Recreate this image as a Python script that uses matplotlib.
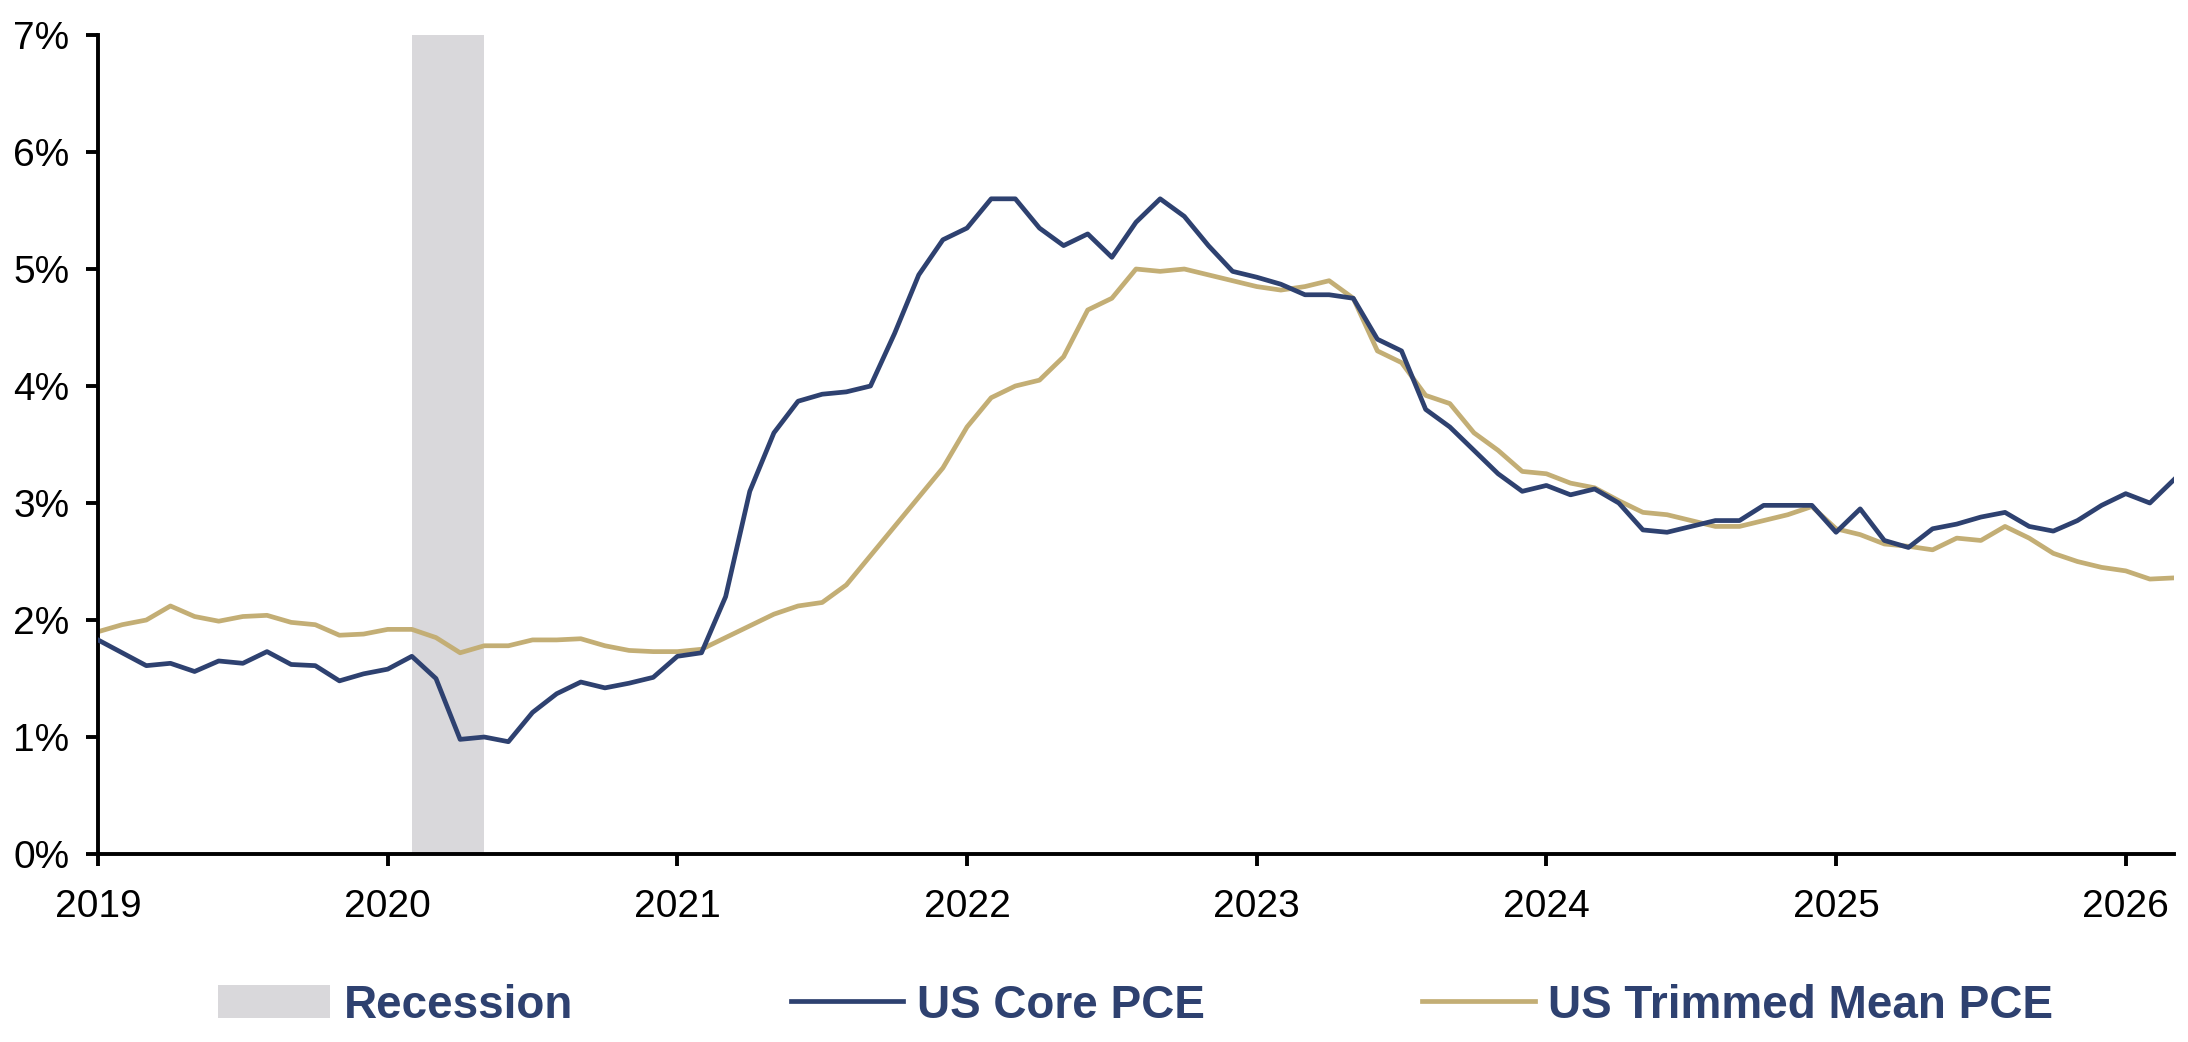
import numpy as np
import matplotlib.pyplot as plt
from matplotlib.patches import Patch
from matplotlib.lines import Line2D
from matplotlib.ticker import FuncFormatter

plt.rcParams['font.family'] = ['Liberation Sans', 'DejaVu Sans']

# monthly readings, Jan 2019 .. Mar 2026 (% y/y)
core_pce = [
    1.83, 1.72, 1.61, 1.63, 1.56, 1.65, 1.63, 1.73, 1.62, 1.61, 1.48, 1.54,  # 2019
    1.58, 1.69, 1.50, 0.98, 1.00, 0.96, 1.21, 1.37, 1.47, 1.42, 1.46, 1.51,  # 2020
    1.69, 1.72, 2.20, 3.10, 3.60, 3.87, 3.93, 3.95, 4.00, 4.45, 4.95, 5.25,  # 2021
    5.35, 5.60, 5.60, 5.35, 5.20, 5.30, 5.10, 5.40, 5.60, 5.45, 5.20, 4.98,  # 2022
    4.93, 4.87, 4.78, 4.78, 4.75, 4.40, 4.30, 3.80, 3.65, 3.45, 3.25, 3.10,  # 2023
    3.15, 3.07, 3.12, 3.00, 2.77, 2.75, 2.80, 2.85, 2.85, 2.98, 2.98, 2.98,  # 2024
    2.75, 2.95, 2.68, 2.62, 2.78, 2.82, 2.88, 2.92, 2.80, 2.76, 2.85, 2.98,  # 2025
    3.08, 3.00, 3.20,                                                        # 2026
]
trimmed_pce = [
    1.90, 1.96, 2.00, 2.12, 2.03, 1.99, 2.03, 2.04, 1.98, 1.96, 1.87, 1.88,
    1.92, 1.92, 1.85, 1.72, 1.78, 1.78, 1.83, 1.83, 1.84, 1.78, 1.74, 1.73,
    1.73, 1.75, 1.85, 1.95, 2.05, 2.12, 2.15, 2.30, 2.55, 2.80, 3.05, 3.30,
    3.65, 3.90, 4.00, 4.05, 4.25, 4.65, 4.75, 5.00, 4.98, 5.00, 4.95, 4.90,
    4.85, 4.82, 4.85, 4.90, 4.75, 4.30, 4.20, 3.92, 3.85, 3.60, 3.45, 3.27,
    3.25, 3.17, 3.13, 3.02, 2.92, 2.90, 2.85, 2.80, 2.80, 2.85, 2.90, 2.97,
    2.78, 2.73, 2.65, 2.63, 2.60, 2.70, 2.68, 2.80, 2.70, 2.57, 2.50, 2.45,
    2.42, 2.35, 2.36,
]
recession = (2020 + 1/12, 2020 + 4/12)  # Feb-Apr 2020
years = list(range(2019, 2027))

navy = '#2E4170'
tan = '#C3AE75'
grey = '#D9D8DB'

months = 2019 + np.arange(len(core_pce)) / 12

fig = plt.figure(figsize=(21.88, 10.42), dpi=100)
ax = fig.add_axes([0.0448, 0.1804, 0.9488, 0.786])

ax.axvspan(recession[0], recession[1], color=grey, lw=0, zorder=1)
ax.plot(months, core_pce, color=navy, lw=3.4, zorder=3)
ax.plot(months, trimmed_pce, color=tan, lw=3.4, zorder=2)

ax.set_xlim(2019, 2026 + 2/12)
ax.set_ylim(0, 7)
ax.set_xticks(years)
ax.set_xticklabels([str(y) for y in years])
ax.set_yticks(range(0, 8))
ax.yaxis.set_major_formatter(FuncFormatter(lambda v, p: f'{v:.0f}%'))

for s in ['top', 'right']:
    ax.spines[s].set_visible(False)
for s in ['left', 'bottom']:
    ax.spines[s].set_linewidth(2.8)
ax.tick_params(axis='both', direction='out', length=8.5, width=2.8, labelsize=28)
ax.tick_params(axis='x', pad=17)
ax.tick_params(axis='y', pad=12)

handles = [
    Patch(facecolor=grey, edgecolor='none', label='Recession'),
    Line2D([], [], color=navy, lw=3.4, label='US Core PCE'),
    Line2D([], [], color=tan, lw=3.4, label='US Trimmed Mean PCE'),
]
leg = fig.legend(handles=handles, loc='center', bbox_to_anchor=(0.519, 0.035), ncol=3,
                 frameon=False, handlelength=2.45, handletextpad=0.3, columnspacing=4.75,
                 prop={'size': 33, 'weight': 'bold'})
for t in leg.get_texts():
    t.set_color(navy)

fig.savefig('out.png', dpi=100)
